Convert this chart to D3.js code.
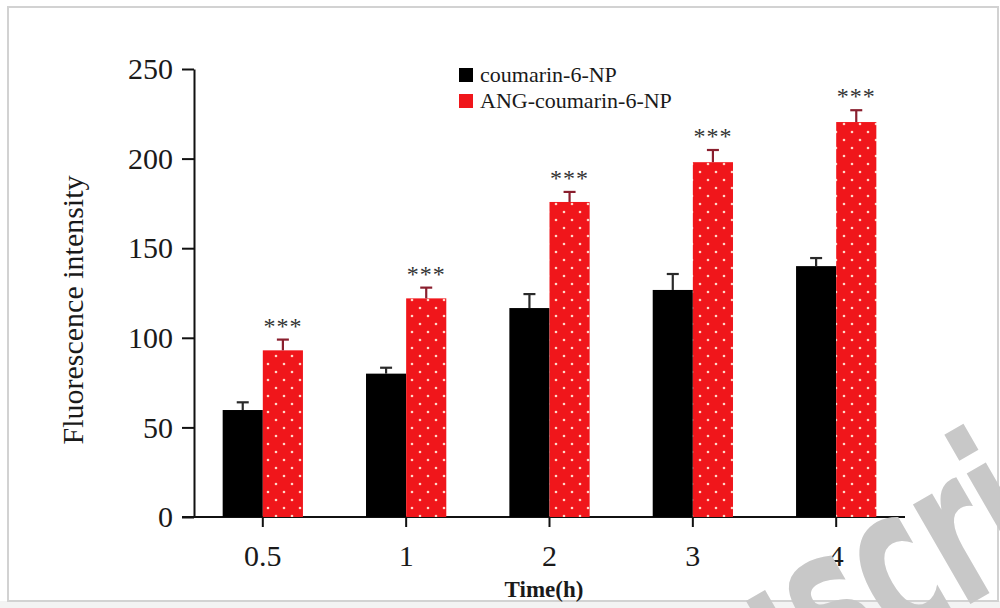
<!DOCTYPE html>
<html>
<head>
<meta charset="utf-8">
<script src="https://cdn.jsdelivr.net/npm/d3@7"></script>
<style>
  body { margin: 0; background: #fff; }
  svg { display: block; font-family: "Liberation Serif", "Times New Roman", serif; }
</style>
</head>
<body>
<svg id="chart1" width="1000" height="608"></svg>
<script>
// data
var times = ["0.5", "1", "2", "3", "4"];
var seriesNames = ["coumarin-6-NP", "ANG-coumarin-6-NP"];
var npMean = [59.7, 80, 116.6, 126.7, 140];
var npErr = [4.3, 3.3, 7.8, 8.9, 4.5];
var angMean = [93, 122, 175.8, 198, 220.4];
var angErr = [6, 6, 5.6, 6.8, 6.6];
var yTicks = [0, 50, 100, 150, 200, 250];
var stars = ["***", "***", "***", "***", "***"];

var svg = d3.select("#chart1");

// frame around the picture
svg.append("rect")
    .attr("x", 0).attr("y", 601)
    .attr("width", 1000).attr("height", 7)
    .attr("fill", "#f3f3f3");
svg.append("rect")
    .attr("x", 8).attr("y", 7)
    .attr("width", 990).attr("height", 594)
    .attr("fill", "#fff")
    .attr("stroke", "#d2d2d2")
    .attr("stroke-width", 2);

// dotted fill for the red bars
var pat = svg.append("defs").append("pattern")
    .attr("id", "dots")
    .attr("patternUnits", "userSpaceOnUse")
    .attr("width", 16).attr("height", 16);
pat.append("rect").attr("width", 16).attr("height", 16).attr("fill", "#f0161b");
pat.append("circle").attr("cx", 4).attr("cy", 4).attr("r", 1.3).attr("fill", "#ffd6c8");
pat.append("circle").attr("cx", 12).attr("cy", 12).attr("r", 1.3).attr("fill", "#ffd6c8");

var x = d3.scaleBand()
    .domain(times)
    .range([194, 905])
    .paddingInner(0.44)
    .paddingOuter(0.2);

var y = d3.scaleLinear()
    .domain([0, 250])
    .range([517, 69]);

var barW = x.bandwidth() / 2;

// axes
var yAxis = svg.append("g")
    .attr("transform", "translate(194,0)")
    .call(d3.axisLeft(y).tickValues(yTicks).tickSize(12).tickPadding(9).tickSizeOuter(0));
var xAxis = svg.append("g")
    .attr("transform", "translate(0,517)")
    .call(d3.axisBottom(x).tickSize(10).tickPadding(18).tickSizeOuter(0));

[yAxis, xAxis].forEach(function(g) {
    g.selectAll("path, line").attr("stroke", "#111").attr("stroke-width", 2);
    g.selectAll("text").attr("font-family", "Liberation Serif").attr("font-size", 30).attr("fill", "#1a1a1a");
});
xAxis.select(".domain").attr("d", "M182,0H905");

// black bars
svg.append("g").selectAll("rect")
    .data(npMean)
    .enter().append("rect")
    .attr("x", function(d, i) { return x(times[i]); })
    .attr("y", function(d) { return y(d); })
    .attr("width", barW)
    .attr("height", function(d) { return y(0) - y(d); })
    .attr("fill", "#000");

// red dotted bars
svg.append("g").selectAll("rect")
    .data(angMean)
    .enter().append("rect")
    .attr("x", function(d, i) { return x(times[i]) + barW; })
    .attr("y", function(d) { return y(d); })
    .attr("width", barW)
    .attr("height", function(d) { return y(0) - y(d); })
    .attr("fill", "url(#dots)");

// upper error whiskers
function whiskers(means, errs, offset, colour) {
    var g = svg.append("g").attr("stroke", colour).attr("stroke-width", 2.2);
    means.forEach(function(m, i) {
        var cx = x(times[i]) + offset;
        g.append("line").attr("x1", cx).attr("x2", cx).attr("y1", y(m)).attr("y2", y(m + errs[i]));
        g.append("line").attr("x1", cx - 6).attr("x2", cx + 6).attr("y1", y(m + errs[i])).attr("y2", y(m + errs[i]));
    });
}
whiskers(npMean, npErr, barW / 2, "#2a2a2a");
whiskers(angMean, angErr, barW * 1.5, "#8a1f2e");

// significance stars
svg.append("g").selectAll("text")
    .data(stars)
    .enter().append("text")
    .attr("x", function(d, i) { return x(times[i]) + barW * 1.5; })
    .attr("y", function(d, i) { return y(angMean[i] + angErr[i]) - 6; })
    .attr("text-anchor", "middle")
    .attr("font-size", 24)
    .attr("letter-spacing", 1)
    .attr("fill", "#333")
    .text(function(d) { return d; });

// axis titles
svg.append("text")
    .attr("transform", "translate(83,310) rotate(-90)")
    .attr("text-anchor", "middle")
    .attr("font-size", 30)
    .attr("fill", "#1a1a1a")
    .text("Fluorescence intensity");
svg.append("text")
    .attr("x", 544).attr("y", 597)
    .attr("text-anchor", "middle")
    .attr("font-size", 23)
    .attr("font-weight", "bold")
    .attr("fill", "#1a1a1a")
    .text("Time(h)");

// legend
var legend = svg.append("g").attr("transform", "translate(459,68)");
seriesNames.forEach(function(name, i) {
    legend.append("rect")
        .attr("x", 0).attr("y", i * 26)
        .attr("width", 14).attr("height", 14)
        .attr("fill", i === 0 ? "#000" : "#f0161b");
    legend.append("text")
        .attr("x", 21).attr("y", i * 26 + 14)
        .attr("font-size", 22)
        .attr("fill", "#1a1a1a")
        .text(name);
});

// "Author Manuscript" watermark, only "scr.." lands inside the picture
svg.append("text")
    .attr("transform", "translate(494,879) rotate(-30) scale(0.6,1)")
    .attr("font-family", "DejaVu Sans")
    .attr("font-weight", "bold")
    .attr("font-size", 210)
    .attr("fill", "#c8c8c8")
    .text("Manuscript");
</script>
</body>
</html>
